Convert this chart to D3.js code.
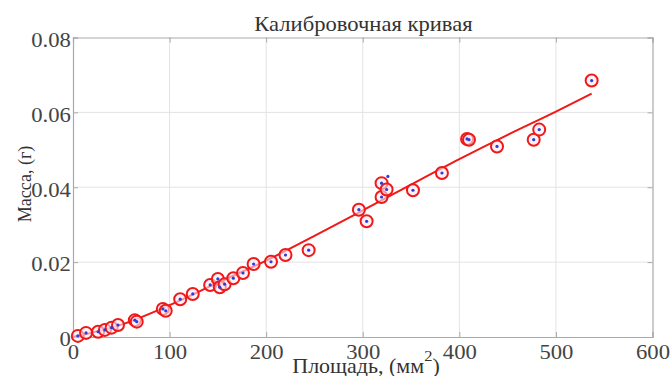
<!DOCTYPE html>
<html><head><meta charset="utf-8">
<script src="https://cdn.jsdelivr.net/npm/d3@7"></script>
<style>body{margin:0;background:#fff}svg{display:block}
text{font-family:'Liberation Serif','Times New Roman',serif !important}</style>
</head><body>
<script>
const titleText = "Калибровочная кривая";
const xLabel = "Площадь, (мм";
const yLabel = "Масса, (г)";
const xTicks = [0,100,200,300,400,500,600];
const yTicks = [0,0.02,0.04,0.06,0.08];
const yTickLabels = ["0","0.02","0.04","0.06","0.08"];
const areas  = [5,13.5,26,33,40,46.6,64,66,93,96,111,124,142,150,152,157,166,176,187,205,220,244,296,304,319.5,319.5,324.7,352,382,408,410,439,477,482.7,537];
const masses = [0.0003,0.0011,0.0014,0.0019,0.0025,0.0032,0.0045,0.0041,0.0075,0.007,0.0101,0.0115,0.0139,0.0155,0.0133,0.0141,0.0157,0.0171,0.0195,0.0201,0.0219,0.0232,0.034,0.0309,0.0374,0.0411,0.0394,0.0392,0.0438,0.0529,0.0527,0.0509,0.0527,0.0554,0.0685];
const extraAreas = [326];
const extraMasses = [0.0429];
const fitAreas  = [0,50,100,150,200,250,300,350,400,450,500,537];
const fitMasses = [0,0.0033,0.0085,0.0145,0.0204,0.0270,0.0338,0.0407,0.0475,0.0540,0.0602,0.0650];

const W=672,H=376, L=73, R=652.5, T=37.5, B=337;
const svg=d3.select("body").append("svg").attr("width",W).attr("height",H);
const x=d3.scaleLinear().domain([0,600]).range([L,R]);
const y=d3.scaleLinear().domain([0,0.08]).range([B,T]);
const font="'Liberation Serif', 'Times New Roman', serif";

// grid
svg.append("g").selectAll("line").data(xTicks.slice(1,-1)).join("line")
  .attr("x1",d=>x(d)).attr("x2",d=>x(d)).attr("y1",T).attr("y2",B)
  .attr("stroke","#e3e3e3").attr("stroke-width",1);
svg.append("g").selectAll("line").data(yTicks.slice(1,-1)).join("line")
  .attr("y1",d=>y(d)).attr("y2",d=>y(d)).attr("x1",L).attr("x2",R)
  .attr("stroke","#e3e3e3").attr("stroke-width",1);

// axes
const xa=svg.append("g").attr("transform",`translate(0,${B})`)
  .call(d3.axisBottom(x).tickValues(xTicks).tickSize(-5).tickPadding(4).tickFormat(d3.format("d")));
const ya=svg.append("g").attr("transform",`translate(${L},0)`)
  .call(d3.axisLeft(y).tickValues(yTicks).tickSize(-5).tickPadding(2).tickFormat((d,i)=>yTickLabels[i]));
svg.append("g").attr("transform",`translate(0,${T})`)
  .call(d3.axisTop(x).tickValues(xTicks).tickSize(-5).tickFormat(""));
svg.append("g").attr("transform",`translate(${R},0)`)
  .call(d3.axisRight(y).tickValues(yTicks).tickSize(-5).tickFormat(""));
svg.selectAll(".domain").attr("stroke","#aaa").attr("stroke-width",1.2);
svg.selectAll(".tick line").attr("stroke","#aaa");
svg.selectAll(".tick text").attr("font-family",font).attr("font-size",21).attr("fill","#444")
  .attr("transform","scale(1.08,1)");
xa.selectAll(".tick text").attr("dy","0.85em");
ya.selectAll(".tick text").attr("dy","0.42em");

// fit line
svg.append("path").datum(fitAreas.map((a,i)=>[a,fitMasses[i]]))
  .attr("d",d3.line().x(d=>x(d[0])).y(d=>y(d[1])).curve(d3.curveMonotoneX))
  .attr("fill","none").attr("stroke","#f01818").attr("stroke-width",2);

// circles
const pts=areas.map((a,i)=>[a,masses[i]]);
svg.append("g").selectAll("circle").data(pts).join("circle")
  .attr("cx",d=>x(d[0])).attr("cy",d=>y(d[1])).attr("r",6)
  .attr("fill","#fde8ee").attr("fill-opacity",0.6).attr("stroke","#f01818").attr("stroke-width",2);
svg.append("g").selectAll("circle").data(pts.concat(extraAreas.map((a,i)=>[a,extraMasses[i]]))).join("circle")
  .attr("cx",d=>x(d[0])).attr("cy",d=>y(d[1])).attr("r",1.6).attr("fill","#2a3ee0");

// labels
svg.append("text").attr("transform","translate(363.5,31) scale(1.13,1)").attr("text-anchor","middle")
  .attr("font-family",font).attr("font-size",20).attr("fill","#333").text(titleText);
const xl=svg.append("text").attr("transform","translate(366,373) scale(1.1,1)").attr("text-anchor","middle")
  .attr("font-family",font).attr("font-size",20).attr("fill","#333");
xl.append("tspan").text(xLabel);
xl.append("tspan").attr("dy",-12).attr("font-size",15).text("2");
xl.append("tspan").attr("dy",12).text(")");
svg.append("text").attr("transform","translate(31,184) rotate(-90)").attr("text-anchor","middle")
  .attr("font-family",font).attr("font-size",18).attr("fill","#333").text(yLabel);
</script>
</body></html>
